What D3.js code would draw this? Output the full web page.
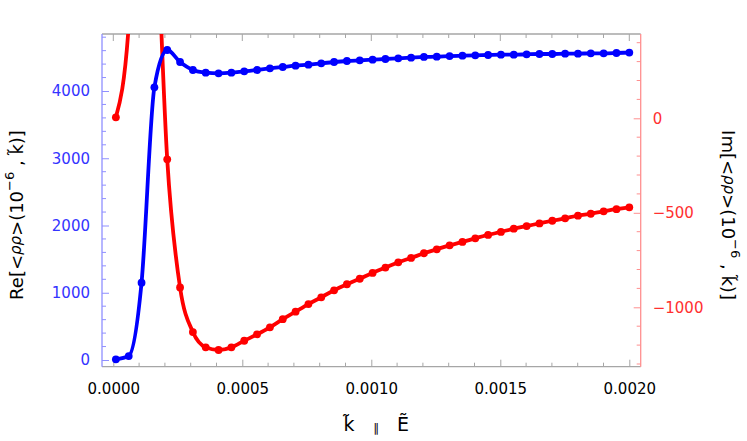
<!DOCTYPE html>
<html>
<head>
<meta charset="utf-8">
<script src="https://cdn.jsdelivr.net/npm/d3@7"></script>
<style>
  html, body { margin: 0; padding: 0; background: #fff; }
  svg { display: block; font-family: "DejaVu Sans", sans-serif; }
</style>
</head>
<body>
<svg id="chart" width="747" height="441"></svg>
<script>
// ---- data ----
const kValues = [0.00001, 0.00005975, 0.0001095, 0.00015925, 0.000209, 0.00025875, 0.0003085, 0.00035825,
  0.000408, 0.00045775, 0.0005075, 0.00055725, 0.000607, 0.00065675, 0.0007065, 0.00075625, 0.000806,
  0.00085575, 0.0009055, 0.00095525, 0.001005, 0.00105475, 0.0011045, 0.00115425, 0.001204, 0.00125375,
  0.0013035, 0.00135325, 0.001403, 0.00145275, 0.0015025, 0.00155225, 0.001602, 0.00165175, 0.0017015,
  0.00175125, 0.001801, 0.00185075, 0.0019005, 0.00195025, 0.002];
const reValues = [10, 59, 1150, 4055, 4610, 4431, 4312, 4272, 4263, 4272, 4293, 4312, 4337, 4357, 4377,
  4392, 4412, 4431, 4446, 4456, 4466, 4476, 4486, 4496, 4506, 4510, 4520, 4525, 4530, 4535, 4540, 4540,
  4545, 4550, 4550, 4555, 4555, 4560, 4560, 4565, 4572];
const imValues = [5, 490, 2100, 1300, -217, -895, -1131, -1212, -1226, -1212, -1177, -1143, -1106, -1063,
  -1023, -983, -947, -910, -878, -849, -818, -790, -762, -739, -714, -693, -672, -654, -635, -617, -601,
  -584, -570, -556, -542, -529, -515, -505, -492, -481, -471];
const xTicks = [0, 0.0005, 0.001, 0.0015, 0.002];
const xTickLabels = ["0.0000", "0.0005", "0.0010", "0.0015", "0.0020"];
const reTicks = [0, 1000, 2000, 3000, 4000];
const imTicks = [-1000, -500, 0];

// ---- layout ----
const svg = d3.select("#chart");
const L = 102, R = 640.7, T = 34, B = 366.7;
const x = d3.scaleLinear().domain([0, 0.002]).range([113.3, 629.3]);
const yRe = d3.scaleLinear().domain([0, 4000]).range([360, 91]);
const yIm = d3.scaleLinear().domain([0, -1000]).range([118.3, 307.3]);

const blue = "#0000ff", red = "#ff0000";
const blueAxis = "#8f8fff", redAxis = "#ff8f8f", gray = "#a6a6a6";
const blueText = "#3434ff", redText = "#ff3030";

// clip
svg.append("defs").append("clipPath").attr("id", "clip")
  .append("rect").attr("x", L).attr("y", T).attr("width", R - L).attr("height", B - T);

// ---- axes ----
// bottom
const xMinor = d3.range(0, 0.00201, 0.0001).filter(v => !xTicks.some(t => Math.abs(t - v) < 1e-9));
const bottomAxis = d3.axisBottom(x).tickValues(xTicks).tickFormat((d, i) => xTickLabels[i]).tickSizeInner(-7).tickSizeOuter(0).tickPadding(17);
const gB = svg.append("g").attr("transform", `translate(0,${B})`).call(bottomAxis);
gB.select(".domain").remove();
gB.selectAll(".tick line").attr("stroke", gray);
gB.selectAll(".tick text").attr("fill", "#000").style("font-size", "15px").style("font-family", "DejaVu Sans");
gB.selectAll(".minor").data(xMinor).enter().append("line")
  .attr("x1", d => x(d)).attr("x2", d => x(d)).attr("y1", 0).attr("y2", -4).attr("stroke", gray);
// top
const gT = svg.append("g").attr("transform", `translate(0,${T})`);
gT.selectAll(".maj").data(xTicks).enter().append("line")
  .attr("x1", d => x(d)).attr("x2", d => x(d)).attr("y1", 0).attr("y2", 7).attr("stroke", gray);
gT.selectAll(".min").data(xMinor).enter().append("line")
  .attr("x1", d => x(d)).attr("x2", d => x(d)).attr("y1", 0).attr("y2", 4).attr("stroke", gray);
svg.append("line").attr("x1", L).attr("x2", R).attr("y1", T).attr("y2", T).attr("stroke", gray).attr("stroke-width", 1.3);
svg.append("line").attr("x1", L).attr("x2", R).attr("y1", B).attr("y2", B).attr("stroke", gray).attr("stroke-width", 1.3);

// left
const reMinor = d3.range(0, 4801, 200).filter(v => v % 1000 !== 0);
const leftAxis = d3.axisLeft(yRe).tickValues(reTicks).tickFormat(d3.format("d")).tickSizeInner(-7).tickSizeOuter(0).tickPadding(12);
const gL = svg.append("g").attr("transform", `translate(${L},0)`).call(leftAxis);
gL.select(".domain").remove();
gL.selectAll(".tick line").attr("stroke", blueAxis);
gL.selectAll(".tick text").attr("fill", blueText).style("font-size", "15px").style("font-family", "DejaVu Sans");
gL.selectAll(".minor").data(reMinor).enter().append("line")
  .attr("x1", 0).attr("x2", 4).attr("y1", d => yRe(d)).attr("y2", d => yRe(d)).attr("stroke", blueAxis);
svg.append("line").attr("x1", L).attr("x2", L).attr("y1", T).attr("y2", B).attr("stroke", blueAxis).attr("stroke-width", 1.3);

// right
const imMinor = d3.range(-1300, 401, 100).filter(v => v % 500 !== 0);
const rightAxis = d3.axisRight(yIm).tickValues(imTicks).tickFormat(d => d3.format("d")(d).replace("-", "\u2212")).tickSizeInner(-7).tickSizeOuter(0).tickPadding(12);
const gR = svg.append("g").attr("transform", `translate(${R},0)`).call(rightAxis);
gR.select(".domain").remove();
gR.selectAll(".tick line").attr("stroke", redAxis);
gR.selectAll(".tick text").attr("fill", redText).style("font-size", "15px").style("font-family", "DejaVu Sans");
gR.selectAll(".minor").data(imMinor).enter().append("line")
  .attr("x1", 0).attr("x2", -4).attr("y1", d => yIm(d)).attr("y2", d => yIm(d)).attr("stroke", redAxis);
svg.append("line").attr("x1", R).attr("x2", R).attr("y1", T).attr("y2", B).attr("stroke", redAxis).attr("stroke-width", 1.3);

// ---- series ----
const plot = svg.append("g").attr("clip-path", "url(#clip)");
function series(vals, yScale, color) {
  const pts = kValues.map((k, i) => [k, vals[i]]);
  const line = d3.line().x(d => x(d[0])).y(d => yScale(d[1])).curve(d3.curveMonotoneX);
  plot.append("path").datum(pts).attr("d", line).attr("fill", "none")
    .attr("stroke", color).attr("stroke-width", 3.8).attr("stroke-linejoin", "round");
  plot.selectAll(null).data(pts).enter().append("circle")
    .attr("cx", d => x(d[0])).attr("cy", d => yScale(d[1])).attr("r", 3.9).attr("fill", color);
}
series(imValues, yIm, red);
series(reValues, yRe, blue);

// ---- axis titles ----
const xl = svg.append("g").attr("fill", "#000");
xl.append("text").attr("x", 349).attr("y", 431).attr("text-anchor", "middle").style("font-size", "19px").text("k\u0303");
xl.append("text").attr("x", 376).attr("y", 432).attr("text-anchor", "middle").style("font-size", "12px").text("\u2225");
xl.append("text").attr("x", 403).attr("y", 431).attr("text-anchor", "middle").style("font-size", "19px").text("\u1EBC");

function yTitle(prefix, cx, cy, rot) {
  const t = svg.append("text").attr("transform", `translate(${cx},${cy}) rotate(${rot})`)
    .attr("text-anchor", "middle").attr("dominant-baseline", "central")
    .attr("fill", "#000").style("font-size", "18px");
  t.append("tspan").text(prefix + "[<");
  t.append("tspan").style("font-style", "italic").style("font-size", "15px").text("\u03C1\u03C1");
  t.append("tspan").text(">(10");
  t.append("tspan").attr("dy", -7).style("font-size", "13px").text("\u22126");
  t.append("tspan").attr("dy", 7).text(" , k\u0303)]");
}
yTitle("Re", 16, 215, -90);
yTitle("Im", 729, 215, 90);
</script>
</body>
</html>
